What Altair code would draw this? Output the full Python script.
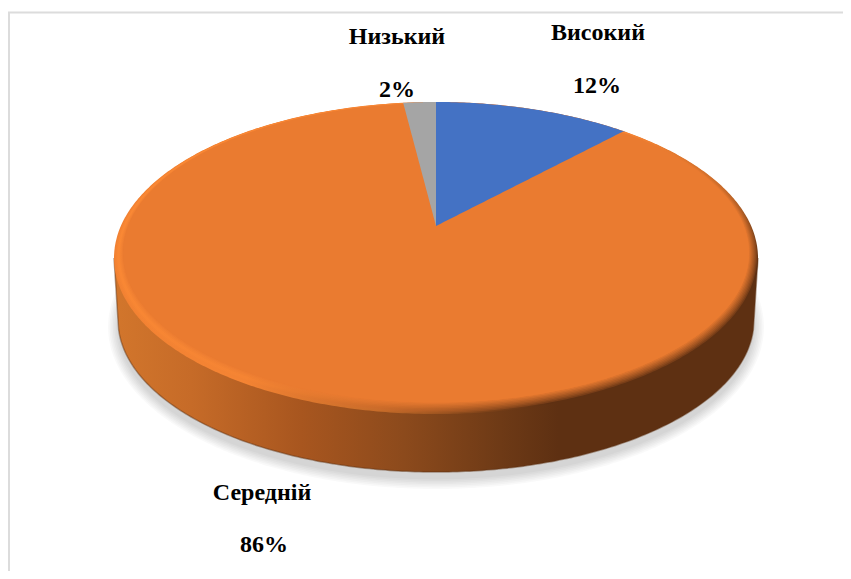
import math
import altair as alt
import pandas as pd

# ---- values ----
categories = ["Високий", "Середній", "Низький"]
shares = [12, 86, 2]
slice_colors = ["#4472C4", "#EA7B30", "#A5A5A5"]

# ---- layout of the tilted disc (screen pixels) ----
CX, CY, RX, RY = 436.0, 258.0, 322.0, 156.0
APEX_Y = 226.0
LOW_CY, LOW_RX, LOW_RY = 320.0, 318.0, 152.0
STEPS = 240

W, H = 835, 563
xs = alt.Scale(domain=[8, 8 + W], nice=False, zero=False)
ys = alt.Scale(domain=[8 + H, 8], nice=False, zero=False)
X = alt.X("x:Q", scale=xs, axis=None)
Y = alt.Y("y:Q", scale=ys, axis=None)
Y2 = alt.Y2("y2:Q")


def hexmix(a, b, t):
    pa = [int(a[i:i + 2], 16) for i in (1, 3, 5)]
    pb = [int(b[i:i + 2], 16) for i in (1, 3, 5)]
    return "#%02x%02x%02x" % tuple(round(u + (v - u) * t) for u, v in zip(pa, pb))


def grad(stops, x2=1, y2=0):
    return {"gradient": "linear", "x1": 0, "y1": 0, "x2": x2, "y2": y2,
            "stops": [{"offset": o, "color": c} for o, c in stops]}


def ellipse(cx, cy, rx, ry):
    rows = []
    for i in range(STEPS + 1):
        t = math.pi * (i / STEPS - 0.5)
        rows.append({"x": cx + rx * math.sin(t),
                     "y": cy - ry * math.cos(t),
                     "y2": cy + ry * math.cos(t)})
    return pd.DataFrame(rows)


def edge_point(theta):
    # perspective view of a flat circle: centre appears above the ellipse centre
    lift = CY - APEX_Y
    k = lift / (2 * RY)
    ex, ey = math.sin(theta), math.cos(theta)
    w = 1 + k * ey
    return CX + RX * ex / w, CY - (RY * ey + lift) / w


def wedge(theta0, theta1):
    """Region between apex and rim, from a radial at theta0/theta1 to the 12 o'clock radial."""
    theta = theta1 if abs(theta0) < 1e-9 else theta0
    ex, ey_ = edge_point(theta)
    rows = []
    for i in range(81):
        x = CX + (ex - CX) * i / 80
        top = CY - RY * math.sqrt(max(0, 1 - ((x - CX) / RX) ** 2))
        low = APEX_Y + (ey_ - APEX_Y) * i / 80
        rows.append({"x": x, "y": top, "y2": max(top, low)})
    return pd.DataFrame(rows)


layers = []

# page frame
frame_top = pd.DataFrame({"x": [8], "x2": [8 + W], "y": [12.5]})
frame_left = pd.DataFrame({"x": [9], "y": [12], "y2": [8 + H]})
layers.append(alt.Chart(frame_top).mark_rule(color="#dcdcdc", strokeWidth=2).encode(x=X, x2="x2:Q", y=Y))
layers.append(alt.Chart(frame_left).mark_rule(color="#dcdcdc", strokeWidth=2).encode(x=X, y=Y, y2=Y2))

# soft shadow
for i in range(7):
    d = 10 - i * 1.6
    layers.append(alt.Chart(ellipse(436, 327, 318 + d, 152 + d)).mark_area(color="#000000", opacity=0.022).encode(x=X, y=Y, y2=Y2))

# side wall of the disc
side = []
for i in range(STEPS + 1):
    t = math.pi * (i / STEPS - 0.5)
    x = CX + RX * math.sin(t)
    if abs(x - CX) >= LOW_RX:
        y2 = CY + (LOW_CY - CY) * (RX - abs(x - CX)) / (RX - LOW_RX)
    else:
        y2 = LOW_CY + LOW_RY * math.sqrt(1 - ((x - CX) / LOW_RX) ** 2)
    side.append({"x": x, "y": CY, "y2": y2})
side = pd.DataFrame(side)
wall = grad([(0, "#D2762C"), (0.12, "#C66B28"), (0.29, "#A8561F"),
             (0.45, "#8C4A1C"), (0.60, "#6E3A16"), (0.69, "#5E3012"), (1, "#5E3012")])
layers.append(alt.Chart(side).mark_area(color=wall).encode(x=X, y=Y, y2=Y2))
layers.append(alt.Chart(side).mark_line(color="#5E3012", strokeWidth=1.5, opacity=0.45).encode(x=X, y=alt.Y("y2:Q", scale=ys, axis=None)))

# bevelled rim of the top face, then the flat face
FACE = slice_colors[1]
RINGS = 8
for i in range(RINGS + 1):
    t = i / RINGS
    bright = 1 - abs(t - 0.45) / 0.55
    left = hexmix(FACE, "#FF8C36", max(0, bright))
    right = hexmix("#5E3012", FACE, t ** 0.8)
    mid = FACE if t > 0.3 else hexmix("#FF8C36", FACE, t / 0.3)
    g = grad([(0, left), (0.5, hexmix(left, mid, 0.4)), (0.66, hexmix(mid, right, 0.35)),
              (0.8, right), (1, right)], x2=1.12, y2=0.84)
    layers.append(alt.Chart(ellipse(CX, CY - 5 * t, RX - 9 * t, RY - 6.5 * t)).mark_area(color=g).encode(x=X, y=Y, y2=Y2))
layers.append(alt.Chart(ellipse(CX, CY - 5, RX - 9, RY - 6.5)).mark_area(color=FACE).encode(x=X, y=Y, y2=Y2))

# slices, angles derived from the shares
total = sum(shares)
a_high = 2 * math.pi * shares[0] / total
a_low = 2 * math.pi * shares[2] / total
high = wedge(0.0, a_high).assign(category=categories[0])
low = wedge(-a_low, 0.0).assign(category=categories[2])
layers.append(alt.Chart(high).mark_area(color=slice_colors[0]).encode(x=X, y=Y, y2=Y2))
layers.append(alt.Chart(low).mark_area(color=slice_colors[2]).encode(x=X, y=Y, y2=Y2))

# labels
label_text = categories + [f"{v}%" for v in shares]
label_x = [598, 262, 397, 597, 264, 397]
label_y = [33, 493, 37, 86, 545, 90]
labels = pd.DataFrame({"x": label_x, "y": label_y, "t": label_text})
layers.append(alt.Chart(labels).mark_text(font="Liberation Serif", fontWeight="bold", fontSize=24,
                                          color="#000000", align="center", baseline="middle")
              .encode(x=X, y=Y, text="t:N"))

chart = (alt.layer(*layers)
         .properties(width=W, height=H, padding=0, autosize=alt.AutoSizeParams(type="none"))
         .configure_view(stroke=None))
chart.save("out.html", embed_options={"renderer": "svg", "actions": False})
